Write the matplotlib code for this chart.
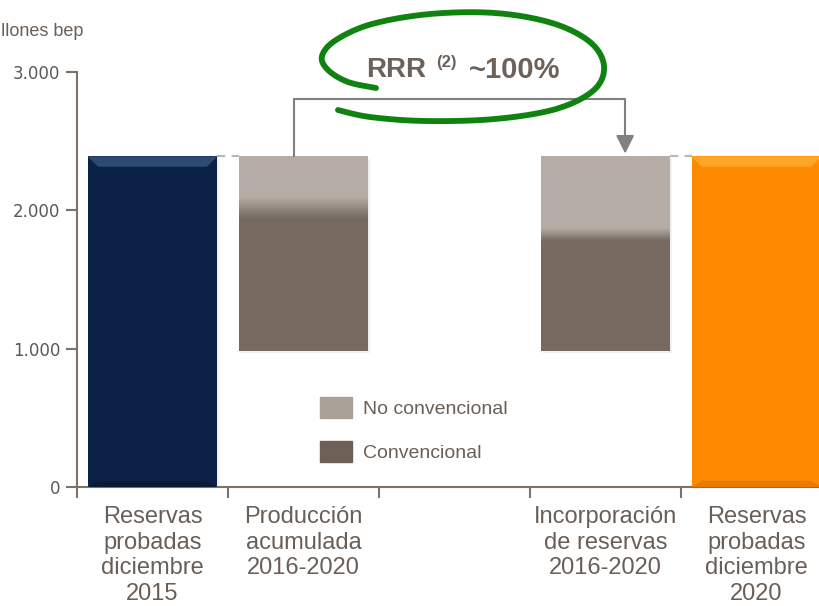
import numpy as np
import matplotlib.pyplot as plt
from matplotlib.patches import Patch, Polygon
from matplotlib.colors import to_rgb

# data (millones bep)
categories = ['Reservas\nprobadas\ndiciembre\n2015', 'Producción\nacumulada\n2016-2020', '',
              'Incorporación\nde reservas\n2016-2020', 'Reservas\nprobadas\ndiciembre\n2020']
reservas_2015 = 2390
produccion_conv = 1035
produccion_noconv = 370
incorporacion_conv = 835
incorporacion_noconv = 570
reservas_2020 = 2390
yticks = [0, 1000, 2000, 3000]
ytick_labels = ['0', '1.000', '2.000', '3.000']

navy = '#0b2246'
orange = '#ff8a00'
light = '#b5ada5'
dark = '#756960'
txt = '#6a5f57'
axcol = '#7d7168'

fig = plt.figure(figsize=(8.19, 6.06), dpi=100)
ax = fig.add_axes([77 / 819, 119 / 606, 755 / 819, 415 / 606])

w = 0.86
x = np.arange(len(categories))
base_prod = reservas_2015 - produccion_conv - produccion_noconv
base_inc = base_prod

# soft shadows
for xi, bot, top in [(0, 0, reservas_2015), (1, base_prod, reservas_2015),
                     (3, base_inc, base_inc + incorporacion_conv + incorporacion_noconv),
                     (4, 0, reservas_2020)]:
    ax.bar(xi + 0.012, top - bot, bottom=bot - 18, width=w, color='#e8e8e8', alpha=0.6, zorder=1)

ax.bar(x[0], reservas_2015, width=w, color=navy, zorder=2)
ax.bar(x[4], reservas_2020, width=w, color=orange, zorder=2)


def grey_bar(xi, bottom, conv, noconv, blend):
    ax.bar(xi, conv, bottom=bottom, width=w, color=dark, zorder=2)
    ax.bar(xi, noconv, bottom=bottom + conv, width=w, color=light, zorder=2)
    # soft transition between the two segments
    mid = bottom + conv
    n = 64
    c0, c1 = np.array(to_rgb(dark)), np.array(to_rgb(light))
    t = np.linspace(0, 1, n)[:, None]
    grad = (c0 * (1 - t) + c1 * t)[:, None, :]
    ax.imshow(grad, extent=[xi - w / 2 + 0.006, xi + w / 2 - 0.006, mid - blend, mid + blend],
              origin='lower', aspect='auto', zorder=3, interpolation='bilinear')


grey_bar(x[1], base_prod, produccion_conv, produccion_noconv, 75)
grey_bar(x[3], base_inc, incorporacion_conv, incorporacion_noconv, 45)


def bevel(xi, top, col_top, col_bot):
    dx = 0.07
    dh = 75
    x0, x1 = xi - w / 2, xi + w / 2
    ax.add_patch(Polygon([(x0, top), (x1, top), (x1 - dx, top - dh), (x0 + dx, top - dh)],
                         closed=True, color=col_top, zorder=3, lw=0))
    ax.add_patch(Polygon([(x0, 0), (x1, 0), (x1 - dx, dh * 0.6), (x0 + dx, dh * 0.6)],
                         closed=True, color=col_bot, zorder=3, lw=0))


bevel(x[0], reservas_2015, '#2d4a74', '#081a36')
bevel(x[4], reservas_2020, '#ffa62a', '#e87a00')

# dashed connectors
ax.plot([x[0] + w / 2, x[1] - w / 2], [reservas_2015] * 2, color='#b9b9b9', lw=1.5,
        dashes=(4, 3), zorder=1)
ax.plot([x[3] + w / 2, x[4] - w / 2], [reservas_2020] * 2, color='#b9b9b9', lw=1.5,
        dashes=(4, 3), zorder=1)

# bracket with arrow
yb = 2805
ax.plot([x[1] - 0.06, x[1] - 0.06, x[3] + 0.13, x[3] + 0.13],
        [reservas_2015, yb, yb, reservas_2015 + 130], color='#808080', lw=1.5, zorder=4)
ax.annotate('', xy=(x[3] + 0.13, reservas_2015), xytext=(x[3] + 0.13, reservas_2015 + 160),
            arrowprops=dict(arrowstyle='-|>,head_length=1.1,head_width=0.55',
                            color='#808080', lw=1.5), zorder=4)

ax.set_xlim(-0.5, 4.5)
ax.set_ylim(0, 3000)
for s in ['top', 'right']:
    ax.spines[s].set_visible(False)
ax.spines['left'].set_color(axcol)
ax.spines['bottom'].set_color(axcol)
ax.spines['left'].set_linewidth(1.5)
ax.spines['bottom'].set_linewidth(1.5)
ax.set_yticks(yticks)
ax.set_yticklabels(ytick_labels)
ax.tick_params(axis='y', length=8, width=1.5, color=axcol, labelsize=12, labelcolor='#595959', pad=4)
ax.set_xticks(np.arange(-0.5, 4.0, 1.0))
ax.set_xticklabels([])
ax.tick_params(axis='x', which='major', length=8, width=1.5, color=axcol)
ax.set_xticks(x, minor=True)
ax.set_xticklabels(categories, minor=True, family='Liberation Sans',
                   fontsize=17, color=txt, linespacing=1.2)
ax.tick_params(axis='x', which='minor', length=0, pad=14)

fig.text(83 / 819, 1 - 32 / 606, 'Millones bep', ha='right', va='center', fontsize=13,
         color=txt, family='Liberation Sans')

leg = ax.legend(handles=[Patch(color='#aaa198', label='No convencional'),
                         Patch(color='#6e6057', label='Convencional')],
                loc='upper left', bbox_to_anchor=((320 - 77) / 755, (487 - 397) / 415),
                frameon=False, handlelength=1.65, handleheight=1.3,
                labelspacing=1.15, handletextpad=0.55, borderpad=0, borderaxespad=0,
                prop={'family': 'Liberation Sans', 'size': 14})
for t in leg.get_texts():
    t.set_color(txt)

# overlay in pixel coordinates for the hand-drawn loop and label
ov = fig.add_axes([0, 0, 1, 1], zorder=5)
ov.set_xlim(0, 819)
ov.set_ylim(606, 0)
ov.axis('off')
ov.patch.set_alpha(0)

pts = np.array([(376, 88), (348, 82), (328, 70), (322, 56), (336, 40), (372, 24), (430, 14),
                (495, 13), (552, 23), (590, 42), (604, 66), (594, 90), (556, 109), (495, 119),
                (425, 121), (370, 117), (338, 110)], float)


def catmull(p, n=20):
    p = np.vstack([p[0], p, p[-1]])
    out = []
    for i in range(1, len(p) - 2):
        p0, p1, p2, p3 = p[i - 1], p[i], p[i + 1], p[i + 2]
        for t in np.linspace(0, 1, n, endpoint=False):
            out.append(0.5 * ((2 * p1) + (-p0 + p2) * t + (2 * p0 - 5 * p1 + 4 * p2 - p3) * t ** 2
                              + (-p0 + 3 * p1 - 3 * p2 + p3) * t ** 3))
    out.append(p[-2])
    return np.array(out)


loop = catmull(pts)
ov.plot(loop[:, 0], loop[:, 1], color='#0f820f', lw=4.2, solid_capstyle='round')

bold = dict(fontweight='bold', color='#6d625a', family='Liberation Sans', va='center')
ov.text(366, 70, 'RRR', fontsize=20, ha='left', **bold)
ov.text(436, 63, '(2)', fontsize=12, ha='left', **bold)
ov.text(469, 70, '~100%', fontsize=21, ha='left', **bold)

fig.savefig('out.png', dpi=100)
